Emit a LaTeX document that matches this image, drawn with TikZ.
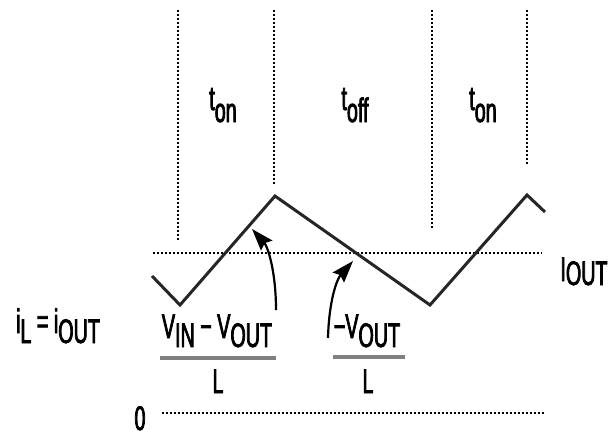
\documentclass[tikz,border=0pt]{standalone}
\usepackage{fontspec}
\setmainfont{Liberation Sans}[FakeStretch=0.58, FakeBold=2.2]
\usetikzlibrary{arrows.meta}
% subscripts are set at full size, only lowered
\newcommand{\lowsub}[2][9pt]{\raisebox{-#1}{#2}}
\tikzset{
  lbl/.style={inner sep=0pt, anchor=base, font=\fontsize{34}{36}\selectfont},
  guide/.style={line width=1.5pt, dash pattern=on 1.5pt off 2.5pt, black},
  wave/.style={line width=3pt, black!85, line join=miter},
  fracbar/.style={line width=4.5pt, black!50},
  pointer/.style={line width=2.2pt, -{Stealth[length=22pt,width=15pt,inset=3pt]}},
}
\begin{document}
\begin{tikzpicture}[x=1pt,y=-1pt]
  \useasboundingbox (0,0) rectangle (608,437);

  % switching-interval boundaries
  \draw[guide] (178,10) -- (178,240);
  \draw[guide] (274,10) -- (274,186);
  \draw[guide] (432,10) -- (432,230);
  \draw[guide] (527,10) -- (527,165);

  % average level and zero level
  \draw[guide] (153,253) -- (542,253);
  \draw[guide] (162,413) -- (545,413);

  % inductor current ripple
  \coordinate (w0) at (152,276);
  \coordinate (w1) at (180,305);
  \coordinate (w2) at (275,196);
  \coordinate (w3) at (430,305);
  \coordinate (w4) at (527,195);
  \coordinate (w5) at (545,212);
  \draw[wave] (w0) -- (w1) -- (w2) -- (w3) -- (w4) -- (w5);

  % interval labels
  \node[lbl] (ton1) at (223,110) {t\lowsub[12pt]{on}};
  \node[lbl] (toff) at (355,110) {t\lowsub[12pt]{off}};
  \node[lbl] (ton2) at (483,110) {t\lowsub[12pt]{on}};

  % level labels
  \node[lbl] (iout) at (584,281) {I\lowsub[4pt]{OUT}};
  \node[lbl] (il)   at (58,333) {i\lowsub[10pt]{L} = i\lowsub[10pt]{OUT}};
  \node[lbl] (zero) at (140,430) {0};

  % rising slope
  \node[lbl] (num1) at (217,338) {V\lowsub{IN} − V\lowsub{OUT}};
  \node[lbl] (den1) at (218,393) {L};
  \draw[fracbar] (160,358) -- (276,358);

  % falling slope
  \node[lbl] (num2) at (367,338) {−V\lowsub{OUT}};
  \node[lbl] (den2) at (368,393) {L};
  \draw[fracbar] (333,357) -- (405,357);

  % slope pointers
  \coordinate (p1s) at (276,310);
  \coordinate (p1e) at (252,229);
  \coordinate (p2s) at (328,338);
  \coordinate (p2e) at (353,261);
  \draw[pointer] (p1s) .. controls (276,272) and (268,247) .. (p1e);
  \draw[pointer] (p2s) .. controls (329,300) and (337,279) .. (p2e);
\end{tikzpicture}
\end{document}
